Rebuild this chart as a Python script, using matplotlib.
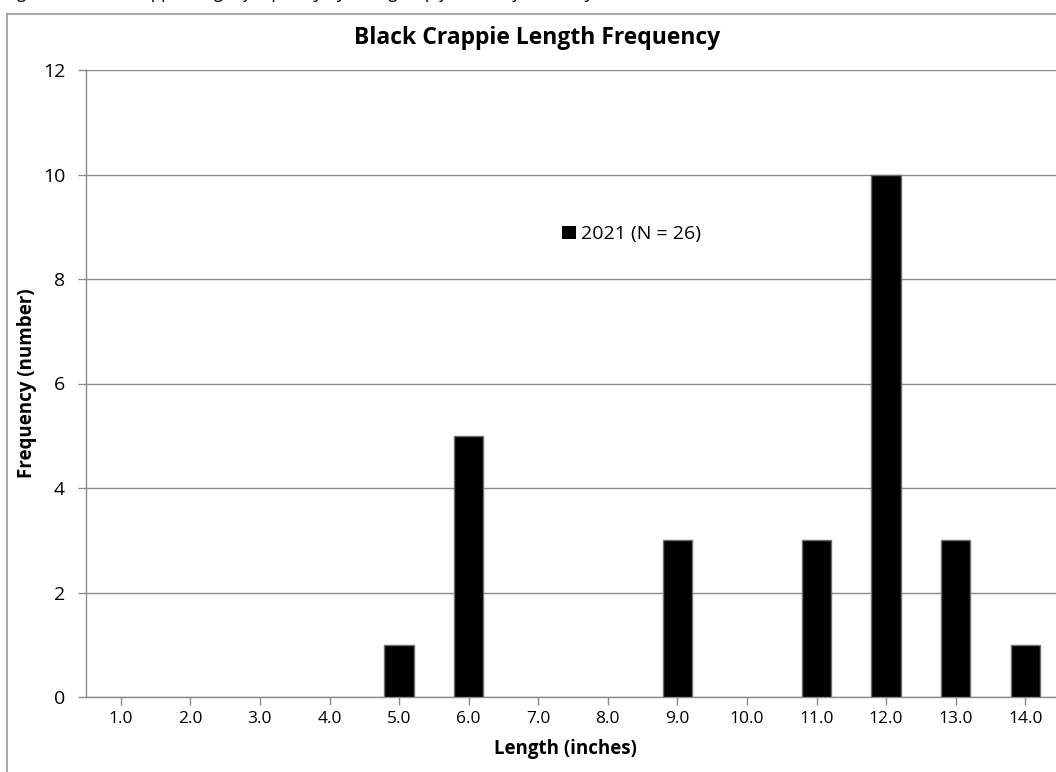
import matplotlib.pyplot as plt
from matplotlib.lines import Line2D

# length classes (inches) and counts for the 2021 sample
lengths = ["1.0", "2.0", "3.0", "4.0", "5.0", "6.0", "7.0",
           "8.0", "9.0", "10.0", "11.0", "12.0", "13.0", "14.0"]
counts = [0, 0, 0, 0, 1, 5, 0, 0, 3, 0, 3, 10, 3, 1]
yticks = [0, 2, 4, 6, 8, 10, 12]
series_label = "2021 (N = 26)"

plt.rcParams["font.family"] = ["Open Sans", "DejaVu Sans"]

W, H = 1056, 772
fig = plt.figure(figsize=(W / 100, H / 100), dpi=100)

# plot area, runs a little past the right edge of the image
ax = fig.add_axes([86 / W, 75 / H, 974 / W, 627 / H])

x = list(range(len(lengths)))
# no outline on empty classes
edge_widths = [1.0 if c > 0 else 0 for c in counts]
ax.bar(x, counts, width=0.42, color="black", edgecolor="#6e6e6e",
       linewidth=edge_widths, label=series_label, zorder=3)

ax.set_xlim(-0.5, len(lengths) - 0.5)
ax.set_ylim(0, 12)
ax.set_xticks(x)
ax.set_xticklabels(lengths, fontsize=12.5)
ax.set_yticks(yticks)
ax.set_yticklabels([str(v) for v in yticks], fontsize=14)

ax.grid(axis="y", color="#8c8c8c", linewidth=1.0, zorder=0)
for side in ["top", "right"]:
    ax.spines[side].set_visible(False)
for side in ["left", "bottom"]:
    ax.spines[side].set_color("#8c8c8c")
    ax.spines[side].set_linewidth(1.0)
ax.tick_params(axis="both", colors="#8c8c8c", labelcolor="black",
               direction="out", length=6, width=1.0)
ax.tick_params(axis="x", pad=4)
ax.tick_params(axis="y", pad=9)

ax.set_xlabel("Length (inches)", fontsize=13.5, fontweight="bold")
ax.xaxis.set_label_coords((565 - 86) / 974, -(739 - 697) / 627)
ax.set_ylabel("Frequency (number)", fontsize=13.5, fontweight="bold")
ax.yaxis.set_label_coords((37 - 86) / 974, 0.5)

leg = ax.legend(loc="center left", bbox_to_anchor=((562 - 86) / 974, 0.738),
                frameon=False, fontsize=14, handlelength=0.7, handleheight=0.7,
                handletextpad=0.3, borderaxespad=0, borderpad=0)

fig.text(537 / W, 1 - 38 / H, "Black Crappie Length Frequency",
         ha="center", va="center", fontsize=16.5, fontweight="bold")

# chart frame and caption line above it
fig.add_artist(Line2D([7 / W, 1.0], [1 - 14 / H, 1 - 14 / H],
                      transform=fig.transFigure, color="#9a9a9a", linewidth=1.2))
fig.add_artist(Line2D([7 / W, 7 / W], [0, 1 - 14 / H],
                      transform=fig.transFigure, color="#9a9a9a", linewidth=1.2))
fig.text(5 / W, 1 + 2 / H,
         "Figure 2. Black Crappie length frequency by inch group from the fall survey, 2021.",
         ha="left", va="baseline", fontsize=13, style="italic")

fig.savefig("out.png", dpi=100)
